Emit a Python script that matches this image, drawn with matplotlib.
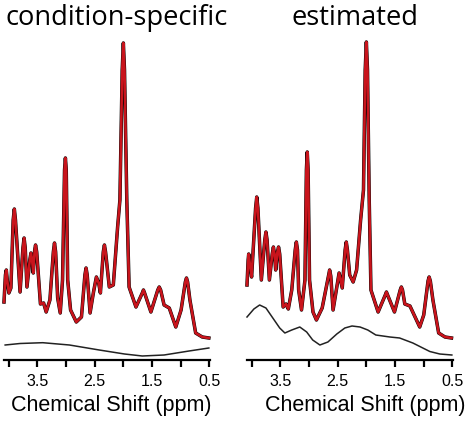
import numpy as np
import matplotlib
matplotlib.use("Agg")
import matplotlib.pyplot as plt

# chemical shift (ppm) and intensity (arb. units)
ppm_cs = [4.08, 4.055, 4.04, 4.02, 3.995, 3.96, 3.92, 3.90, 3.88, 3.80, 3.75, 3.73,
          3.71, 3.68, 3.63, 3.61, 3.59, 3.57, 3.545, 3.53, 3.51, 3.445, 3.39, 3.345,
          3.28, 3.22, 3.20, 3.18, 3.145, 3.10, 3.06, 3.025, 3.01, 2.995, 2.97, 2.92,
          2.82, 2.73, 2.67, 2.65, 2.63, 2.58, 2.52, 2.47, 2.43, 2.40, 2.35, 2.33,
          2.31, 2.245, 2.175, 2.10, 2.06, 2.02, 2.00, 1.98, 1.94, 1.90, 1.78, 1.67,
          1.65, 1.63, 1.52, 1.40, 1.375, 1.35, 1.29, 1.20, 1.086, 0.994, 0.92, 0.90,
          0.88, 0.84, 0.74, 0.625, 0.51]
spec_cs = [58, 85, 90, 78, 67, 72, 140, 151, 140, 68, 112, 122,
           112, 73, 100, 107, 100, 87, 110, 115, 108, 56, 57, 48,
           60, 108, 117, 108, 62, 47, 80, 190, 202, 190, 80, 50,
           38, 43, 85, 92, 85, 47, 68, 83, 77, 67, 108, 115,
           108, 73, 75, 133, 160, 290, 317, 290, 160, 73, 53, 67,
           70, 67, 48, 70, 73, 70, 55, 52, 33, 50, 78, 82,
           78, 60, 27, 23, 22]
ppm_cs_bl = [4.06, 3.80, 3.405, 2.94, 2.42, 1.98, 1.67, 1.29, 0.855, 0.51]
base_cs = [15, 16.5, 17.3, 15, 10, 6, 4, 5, 9, 12]

ppm_est = [4.08, 4.06, 4.05, 4.035, 4.00, 3.93, 3.91, 3.89, 3.83, 3.77, 3.75, 3.73,
           3.69, 3.64, 3.62, 3.60, 3.58, 3.55, 3.53, 3.51, 3.45, 3.40, 3.36, 3.30,
           3.24, 3.22, 3.20, 3.18, 3.13, 3.07, 3.045, 3.03, 3.015, 2.99, 2.93, 2.87,
           2.77, 2.66, 2.64, 2.62, 2.58, 2.475, 2.42, 2.37, 2.35, 2.33, 2.29, 2.23,
           2.17, 2.10, 2.05, 2.02, 2.00, 1.98, 1.95, 1.92, 1.795, 1.67, 1.65, 1.63,
           1.51, 1.41, 1.39, 1.37, 1.33, 1.24, 1.07, 1.00, 0.925, 0.906, 0.885, 0.84,
           0.74, 0.63, 0.516]
spec_est = [75, 100, 106, 98, 83, 152, 163, 152, 80, 120, 128, 120,
            80, 106, 113, 106, 90, 108, 113, 106, 53, 56, 51, 70,
            110, 118, 110, 70, 50, 80, 190, 208, 190, 80, 48, 40,
            52, 84, 90, 84, 50, 87, 72, 110, 118, 110, 85, 78,
            90, 140, 170, 290, 318, 290, 160, 70, 48, 65, 68, 65,
            48, 70, 73, 70, 56, 54, 33, 45, 79, 83, 79, 60,
            27, 23, 22]
ppm_est_bl = [4.08, 3.96, 3.86, 3.75, 3.63, 3.51, 3.42, 3.30, 3.16, 3.04, 2.935, 2.81,
              2.67, 2.515, 2.375, 2.25, 2.11, 1.975, 1.835, 1.59, 1.42, 1.19, 0.894,
              0.72, 0.51]
base_est = [43, 51, 55, 52, 42, 32, 27, 30, 33, 28, 20, 15,
            18, 26, 32, 34, 33, 30, 25, 23, 22, 17, 8.5,
            6, 5]

titles = ["condition-specific", "estimated"]
tick_pos = [4.0, 3.5, 3.0, 2.5, 2.0, 1.5, 1.0, 0.5]
tick_lab = ["", "3.5", "", "2.5", "", "1.5", "", "0.5"]

panels = [(ppm_cs, spec_cs, ppm_cs_bl, base_cs),
          (ppm_est, spec_est, ppm_est_bl, base_est)]

fig = plt.figure(figsize=(4.69, 4.22), dpi=100)
lefts = [4 / 469, 247 / 469]
label_x = [0.519, 0.573]

for i, (px, py, bx, by) in enumerate(panels):
    ax = fig.add_axes([lefts[i], 62 / 422, 206 / 469, 320 / 422])
    # measured spectrum (black) with the fit (red) on top
    ax.plot(px, py, color="black", lw=2.5, solid_joinstyle="round", clip_on=False)
    ax.plot(px, py, color="#c8141c", lw=1.9, solid_joinstyle="round", clip_on=False)
    ax.plot(bx, by, color="#222222", lw=1.1, clip_on=False)
    ax.set_xlim(4.08, 0.49)
    ax.set_ylim(0, 320)
    for s in ["top", "right", "left"]:
        ax.spines[s].set_visible(False)
    ax.spines["bottom"].set_linewidth(1.6)
    ax.set_yticks([])
    ax.set_xticks(tick_pos)
    ax.set_xticklabels(tick_lab, fontsize=11.5, family="Liberation Sans")
    ax.tick_params(axis="x", direction="out", length=5, width=1.6, pad=5)
    ax.set_xlabel("Chemical Shift (ppm)", fontsize=15.5, family="Liberation Sans")
    ax.xaxis.set_label_coords(label_x[i], -0.11)

fig.text(5 / 469, 1 - 25 / 422, titles[0], fontsize=19.6, family="Open Sans",
         ha="left", va="baseline")
fig.text(355 / 469, 1 - 25 / 422, titles[1], fontsize=19.6, family="Open Sans",
         ha="center", va="baseline")

fig.savefig("out.png", dpi=100)
